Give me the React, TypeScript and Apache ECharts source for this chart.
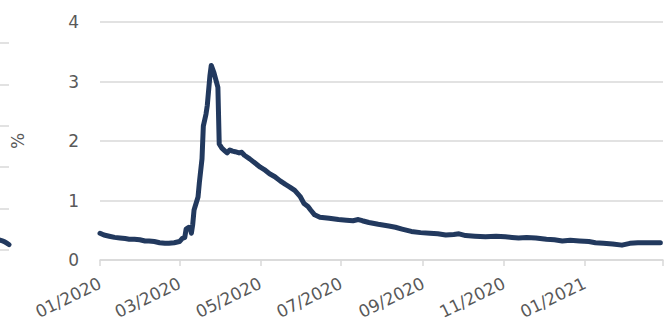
import React, { useEffect, useRef } from "react";
import * as echarts from "echarts";

const dates: string[] = [
  "2020-01-01", "2020-01-04", "2020-01-08", "2020-01-12", "2020-01-16", "2020-01-20", "2020-01-23", "2020-01-27",
  "2020-01-31", "2020-02-04", "2020-02-07", "2020-02-11", "2020-02-15", "2020-02-19", "2020-02-22", "2020-02-26",
  "2020-03-01", "2020-03-03", "2020-03-05", "2020-03-06", "2020-03-08", "2020-03-09", "2020-03-10", "2020-03-11",
  "2020-03-12", "2020-03-15", "2020-03-16", "2020-03-18", "2020-03-19", "2020-03-21", "2020-03-22", "2020-03-24",
  "2020-03-25", "2020-03-27", "2020-03-30", "2020-03-31", "2020-04-02", "2020-04-04", "2020-04-06", "2020-04-08",
  "2020-04-10", "2020-04-12", "2020-04-15", "2020-04-17", "2020-04-19", "2020-04-23", "2020-04-27", "2020-05-01",
  "2020-05-04", "2020-05-08", "2020-05-12", "2020-05-16", "2020-05-20", "2020-05-23", "2020-05-27", "2020-05-31",
  "2020-06-03", "2020-06-06", "2020-06-08", "2020-06-11", "2020-06-15", "2020-06-22", "2020-06-29", "2020-07-05",
  "2020-07-10", "2020-07-14", "2020-07-17", "2020-07-22", "2020-07-29", "2020-08-06", "2020-08-11", "2020-08-16",
  "2020-08-23", "2020-08-30", "2020-09-06", "2020-09-12", "2020-09-18", "2020-09-24", "2020-09-28", "2020-10-03",
  "2020-10-10", "2020-10-18", "2020-10-26", "2020-11-02", "2020-11-07", "2020-11-12", "2020-11-18", "2020-11-25",
  "2020-12-03", "2020-12-09", "2020-12-15", "2020-12-21", "2020-12-28", "2021-01-04", "2021-01-09", "2021-01-15",
  "2021-01-22", "2021-01-29", "2021-02-04", "2021-02-10", "2021-02-16", "2021-02-22", "2021-02-27",
];

const rates: number[] = [
  0.45, 0.42, 0.40, 0.38, 0.37, 0.36, 0.35, 0.35,
  0.34, 0.32, 0.32, 0.31, 0.29, 0.28, 0.28, 0.29,
  0.31, 0.36, 0.38, 0.52, 0.55, 0.54, 0.45, 0.60,
  0.84, 1.06, 1.30, 1.70, 2.25, 2.45, 2.60, 3.10,
  3.27, 3.15, 2.90, 1.95, 1.88, 1.84, 1.80, 1.85,
  1.83, 1.82, 1.80, 1.81, 1.76, 1.70, 1.63, 1.56,
  1.52, 1.45, 1.40, 1.33, 1.27, 1.23, 1.17, 1.07,
  0.95, 0.90, 0.84, 0.76, 0.72, 0.70, 0.68, 0.67,
  0.66, 0.68, 0.66, 0.63, 0.60, 0.57, 0.55, 0.52,
  0.48, 0.46, 0.45, 0.44, 0.42, 0.43, 0.44, 0.41,
  0.40, 0.39, 0.40, 0.39, 0.38, 0.37, 0.38, 0.37,
  0.35, 0.34, 0.32, 0.33, 0.32, 0.31, 0.29, 0.28,
  0.27, 0.25, 0.28, 0.29, 0.29, 0.29, 0.29,
];

// tick months (year, monthIndex) every two months
const tickMonths: [number, number][] = [
  [2020, 0], [2020, 2], [2020, 4], [2020, 6], [2020, 8], [2020, 10], [2021, 0], [2021, 2],
];
const labelMonths: [number, number][] = tickMonths.slice(0, 7);

// fragment of neighbouring chart at the left edge
const fragX: number[] = [0, 1, 2];
const fragValues: number[] = [0.24, 0.2, 0.13];

const yTicks = { min: 0, max: 4, interval: 1 };

const App: React.FC = () => {
  const ref = useRef<HTMLDivElement>(null);

  useEffect(() => {
    if (!ref.current) return;
    const chart = echarts.init(ref.current, undefined, { renderer: "svg" });
    const ts = (y: number, m: number, d = 1) => new Date(y, m, d).getTime();
    const parse = (s: string) => {
      const [y, m, d] = s.split("-").map(Number);
      return ts(y, m - 1, d);
    };
    const tickVals = tickMonths.map(([y, m]) => ts(y, m));
    const labelVals = labelMonths.map(([y, m]) => ts(y, m));
    const gray = "#595959";
    const font = "DejaVu Sans";

    chart.setOption({
      animation: false,
      grid: [
        { left: 100, right: 4, top: 22, bottom: 65, containLabel: false },
        { left: 0, width: 9, top: 43, bottom: 75, containLabel: false },
      ],
      xAxis: [
        {
          type: "value",
          gridIndex: 0,
          min: ts(2020, 0),
          max: ts(2021, 2),
          axisLine: { show: true, lineStyle: { color: "#d9d9d9", width: 1.5 } },
          axisTick: {
            show: true,
            customValues: tickVals,
            length: 6,
            lineStyle: { color: "#d9d9d9", width: 1.5 },
          },
          axisLabel: {
            customValues: labelVals,
            rotate: 26,
            margin: 22,
            color: gray,
            fontFamily: font,
            fontSize: 17,
            hideOverlap: false,
            showMinLabel: true,
            formatter: (v: number) => {
              const d = new Date(v);
              const mm = String(d.getMonth() + 1).padStart(2, "0");
              return `${mm}/${d.getFullYear()}`;
            },
          },
          splitLine: { show: false },
        },
        {
          type: "value",
          gridIndex: 1,
          min: 0,
          max: 2,
          show: false,
        },
      ],
      yAxis: [
        {
          type: "value",
          gridIndex: 0,
          min: yTicks.min,
          max: yTicks.max,
          interval: yTicks.interval,
          name: "%",
          nameLocation: "middle",
          nameGap: 74,
          nameRotate: 90,
          nameTextStyle: { color: gray, fontFamily: font, fontSize: 17 },
          axisLine: { show: false },
          axisTick: { show: false },
          axisLabel: { color: gray, fontFamily: font, fontSize: 17, margin: 21 },
          splitLine: { lineStyle: { color: "#d9d9d9", width: 1.5 } },
        },
        {
          type: "value",
          gridIndex: 1,
          min: 0,
          max: 5,
          interval: 1,
          axisLine: { show: false },
          axisTick: { show: false },
          axisLabel: { show: false },
          splitLine: { lineStyle: { color: "#d9d9d9", width: 1.5 } },
        },
      ],
      series: [
        {
          type: "line",
          xAxisIndex: 0,
          yAxisIndex: 0,
          data: dates.map((d, i) => [parse(d), rates[i]]),
          showSymbol: false,
          symbol: "none",
          lineStyle: { color: "#22395e", width: 5, cap: "round", join: "round" },
        },
        {
          type: "line",
          xAxisIndex: 1,
          yAxisIndex: 1,
          data: fragX.map((x, i) => [x, fragValues[i]]),
          showSymbol: false,
          symbol: "none",
          clip: false,
          smooth: true,
          lineStyle: { color: "#22395e", width: 5, cap: "round" },
        },
      ],
    });
    return () => chart.dispose();
  }, []);

  return (
    <div
      ref={ref}
      style={{ position: "fixed", left: 0, top: 0, width: 667, height: 325, background: "#fff" }}
    />
  );
};

export default App;
